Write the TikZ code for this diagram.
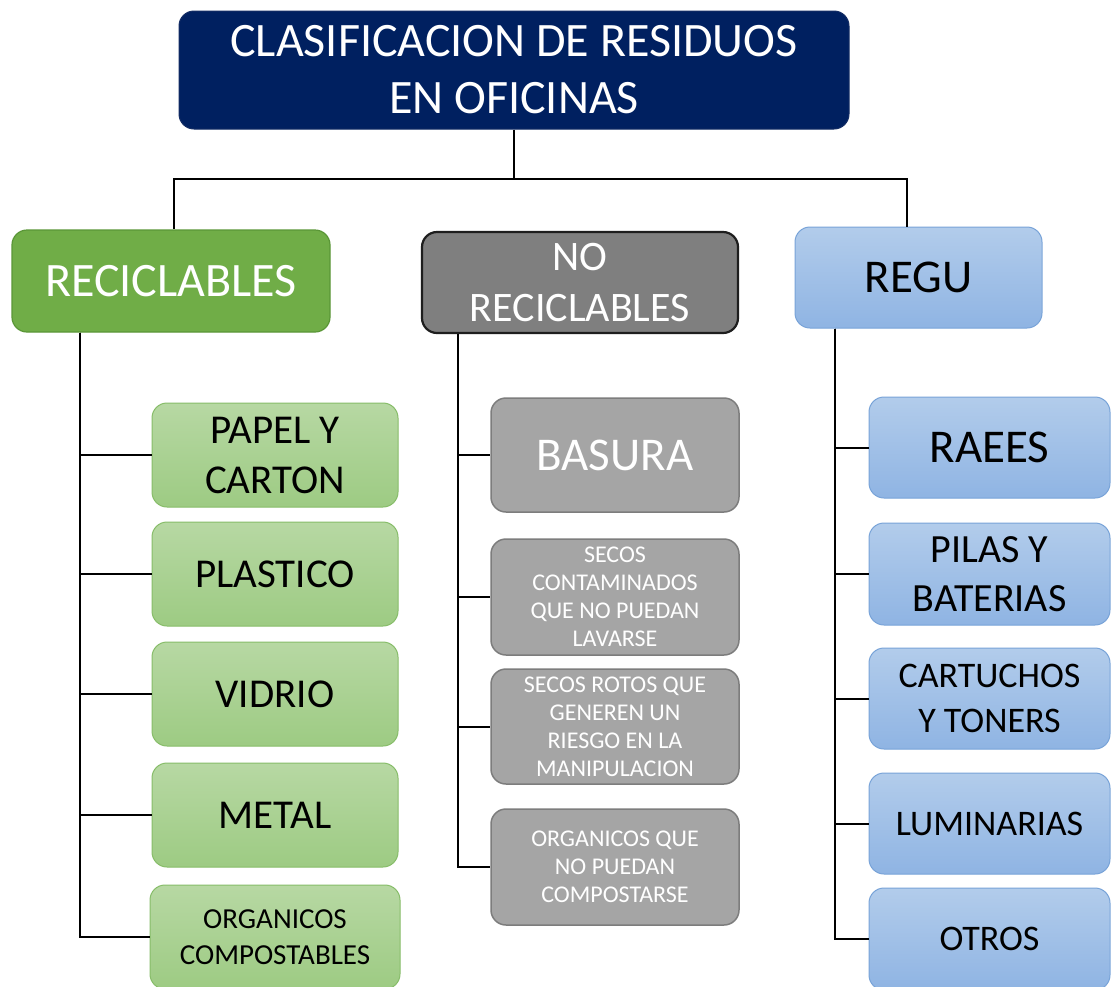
\documentclass[tikz,border=0pt]{standalone}
\usepackage{fontspec}
\setmainfont{Carlito}
\definecolor{navy}{RGB}{0,32,96}
\definecolor{navyedge}{RGB}{20,45,100}
\definecolor{recfill}{RGB}{112,173,71}
\definecolor{recedge}{RGB}{90,150,55}
\definecolor{gtop}{RGB}{183,216,163}
\definecolor{gbot}{RGB}{157,203,131}
\definecolor{gedge}{RGB}{135,189,105}
\definecolor{nrfill}{RGB}{127,127,127}
\definecolor{nredge}{RGB}{30,30,30}
\definecolor{grfill}{RGB}{165,165,165}
\definecolor{gredge}{RGB}{125,125,125}
\definecolor{btop}{RGB}{178,204,235}
\definecolor{bbot}{RGB}{143,180,227}
\definecolor{bedge}{RGB}{120,163,216}
\begin{document}
\begin{tikzpicture}[x=1pt,y=-1pt,
  box/.style={rectangle, rounded corners=15pt, inner sep=0pt, align=center},
  titlebox/.style={box, fill=navy, draw=navyedge, line width=1pt, text=white},
  recbox/.style={box, fill=recfill, draw=recedge, line width=1.2pt, text=white},
  nrbox/.style={box, fill=nrfill, draw=nredge, line width=2.2pt, text=white},
  regubox/.style={box, top color=btop, bottom color=bbot, draw=bedge, line width=1pt, text=black},
  greenbox/.style={box, top color=gtop, bottom color=gbot, draw=gedge, line width=1pt, text=black,
     minimum width=246pt, minimum height=104pt},
  graybox/.style={box, fill=grfill, draw=gredge, line width=1.5pt, text=white,
     minimum width=248pt, minimum height=115pt},
  bluebox/.style={box, top color=btop, bottom color=bbot, draw=bedge, line width=1pt, text=black,
     minimum width=241pt, minimum height=101pt},
  conn/.style={draw=black, line width=2pt}
]
\useasboundingbox (0,0) rectangle (1111,986);
\fill[white] (0,0) rectangle (1111,986);

% title
\node[titlebox, minimum width=670pt, minimum height=118pt,
  font=\fontsize{48}{57}\selectfont] (title) at (514,70)
  {CLASIFICACION DE RESIDUOS\\EN OFICINAS};

% main categories
\node[recbox, minimum width=318pt, minimum height=102pt,
  font=\fontsize{48}{57}\selectfont] (rec) at (171,281) {RECICLABLES};
\node[nrbox, minimum width=316pt, minimum height=101pt,
  font=\fontsize{42}{51}\selectfont] (norec) at (580,282.5) {NO\\RECICLABLES};
\node[regubox, minimum width=247pt, minimum height=101pt,
  font=\fontsize{47}{56}\selectfont] (regu) at (918.5,277.5) {REGU};

% green children
\node[greenbox, font=\fontsize{41}{50}\selectfont] (papel) at (275,455) {PAPEL Y\\CARTON};
\node[greenbox, font=\fontsize{41}{50}\selectfont] (plast) at (275,574) {PLASTICO};
\node[greenbox, font=\fontsize{41}{50}\selectfont] (vidrio) at (275,694) {VIDRIO};
\node[greenbox, font=\fontsize{41}{50}\selectfont] (metal) at (275,815) {METAL};
\node[greenbox, minimum width=250pt, font=\fontsize{29}{36}\selectfont] (orgcomp) at (275,937)
  {ORGANICOS\\COMPOSTABLES};

% gray children
\node[graybox, minimum height=114pt, font=\fontsize{47}{56}\selectfont] (basura) at (615,455) {BASURA};
\node[graybox, minimum height=116pt, font=\fontsize{24}{28}\selectfont] (secos) at (615,597)
  {SECOS\\CONTAMINADOS\\QUE NO PUEDAN\\LAVARSE};
\node[graybox, font=\fontsize{24}{28}\selectfont] (rotos) at (615,726.5)
  {SECOS ROTOS QUE\\GENEREN UN\\RIESGO EN LA\\MANIPULACION};
\node[graybox, minimum height=116pt, font=\fontsize{24}{28}\selectfont] (orgq) at (615,867)
  {ORGANICOS QUE\\NO PUEDAN\\COMPOSTARSE};

% blue children
\node[bluebox, font=\fontsize{47}{56}\selectfont] (raees) at (989.5,447.5) {RAEES};
\node[bluebox, minimum height=102pt, font=\fontsize{40}{49}\selectfont] (pilas) at (989.5,574) {PILAS Y\\BATERIAS};
\node[bluebox, font=\fontsize{36}{45}\selectfont] (cart) at (989.5,698.5) {CARTUCHOS\\Y TONERS};
\node[bluebox, font=\fontsize{36}{45}\selectfont] (lum) at (989.5,823.5) {LUMINARIAS};
\node[bluebox, minimum height=102pt, font=\fontsize{36}{45}\selectfont] (otros) at (989.5,939) {OTROS};

% connectors: title to categories
\draw[conn] (title.south) -- ++(0,49) coordinate (bus) -| ([xshift=3pt]rec.north);
\draw[conn] (bus) -| ([xshift=-11.5pt]regu.north);

% left spine
\foreach \c in {papel,plast,vidrio,metal,orgcomp}
  \draw[conn] ([xshift=69pt]rec.south west) |- (\c.west);
% middle spine
\foreach \c in {basura,secos,rotos,orgq}
  \draw[conn] ([xshift=37pt]norec.south west) |- (\c.west);
% right spine
\foreach \c in {raees,pilas,cart,lum,otros}
  \draw[conn] ([xshift=40pt]regu.south west) |- (\c.west);
\end{tikzpicture}
\end{document}
